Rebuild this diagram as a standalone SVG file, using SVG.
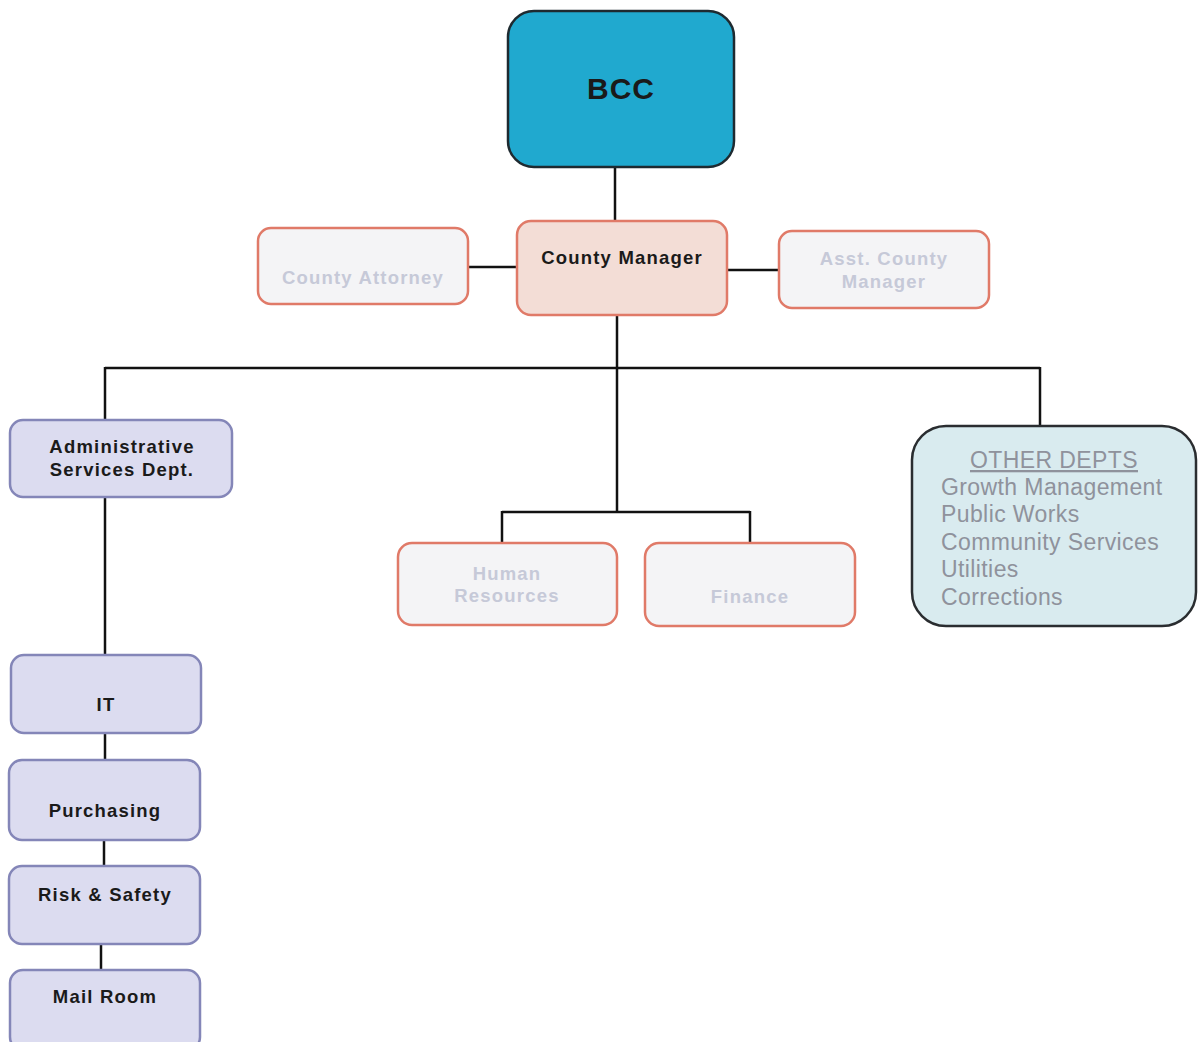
<svg xmlns="http://www.w3.org/2000/svg" width="1204" height="1042" viewBox="0 0 1204 1042">
<style>
.t{font-family:"Liberation Sans",Arial,sans-serif;font-weight:bold;font-size:18.5px;letter-spacing:1.2px;text-anchor:middle;fill:#1a1a1a}
.lt{fill:#c6c9d8}
.od{font-family:"Liberation Sans",Arial,sans-serif;font-size:23px;letter-spacing:0.4px;fill:#8f929c}
.red{fill:#f4f4f6;stroke:#e07a68;stroke-width:2.5}
.blue{fill:#dcdcf0;stroke:#8486b8;stroke-width:2.5}
.c line{stroke:#111;stroke-width:2.5}
</style>
<rect width="1204" height="1042" fill="#fff"/>
<g class="c" id="connectors">
<line x1="615" y1="167" x2="615" y2="221"/>
<line x1="468" y1="267" x2="517" y2="267"/>
<line x1="727" y1="270" x2="779" y2="270"/>
<line x1="617" y1="315" x2="617" y2="512"/>
<line x1="105" y1="368" x2="1040" y2="368"/>
<line x1="105" y1="367" x2="105" y2="420"/>
<line x1="1040" y1="367" x2="1040" y2="426"/>
<line x1="502" y1="512" x2="750" y2="512"/>
<line x1="502" y1="511" x2="502" y2="543"/>
<line x1="750" y1="511" x2="750" y2="543"/>
<line x1="105" y1="497" x2="105" y2="655"/>
<line x1="105" y1="733" x2="105" y2="760"/>
<line x1="104" y1="840" x2="104" y2="866"/>
<line x1="101" y1="944" x2="101" y2="970"/>
</g>
<g id="bcc">
<rect x="508" y="11" width="226" height="156" rx="26" fill="#20a9cf" stroke="#1e2a30" stroke-width="2.5"/>
<text x="621" y="99" class="t" style="font-size:30px;letter-spacing:1px">BCC</text>
</g>
<g id="county-manager">
<rect x="517" y="221" width="210" height="94" rx="14" fill="#f3ddd6" stroke="#e07a68" stroke-width="2.5"/>
<text x="622" y="264" class="t">County Manager</text>
</g>
<g id="county-attorney">
<rect x="258" y="228" width="210" height="76" rx="13" class="red"/>
<text x="363" y="284" class="t lt">County Attorney</text>
</g>
<g id="asst-county-manager">
<rect x="779" y="231" width="210" height="77" rx="13" class="red"/>
<text x="884" y="265" class="t lt">Asst. County</text>
<text x="884" y="288" class="t lt">Manager</text>
</g>
<g id="human-resources">
<rect x="398" y="543" width="219" height="82" rx="14" class="red"/>
<text x="507" y="580" class="t lt">Human</text>
<text x="507" y="602" class="t lt">Resources</text>
</g>
<g id="finance">
<rect x="645" y="543" width="210" height="83" rx="14" class="red"/>
<text x="750" y="603" class="t lt">Finance</text>
</g>
<g id="other-depts">
<rect x="912" y="426" width="284" height="200" rx="34" fill="#d9ebef" stroke="#2a2d30" stroke-width="2.5"/>
<text x="1054" y="468" class="od" text-anchor="middle" text-decoration="underline">OTHER DEPTS</text>
<text x="941" y="495" class="od">Growth Management</text>
<text x="941" y="522" class="od">Public Works</text>
<text x="941" y="550" class="od">Community Services</text>
<text x="941" y="577" class="od">Utilities</text>
<text x="941" y="605" class="od">Corrections</text>
</g>
<g id="admin-services">
<rect x="10" y="420" width="222" height="77" rx="13" class="blue"/>
<text x="122" y="453" class="t">Administrative</text>
<text x="122" y="476" class="t">Services Dept.</text>
</g>
<g id="it">
<rect x="11" y="655" width="190" height="78" rx="13" class="blue"/>
<text x="106" y="711" class="t">IT</text>
</g>
<g id="purchasing">
<rect x="9" y="760" width="191" height="80" rx="13" class="blue"/>
<text x="105" y="817" class="t">Purchasing</text>
</g>
<g id="risk-safety">
<rect x="9" y="866" width="191" height="78" rx="13" class="blue"/>
<text x="105" y="901" class="t">Risk &amp; Safety</text>
</g>
<g id="mail-room">
<rect x="10" y="970" width="190" height="80" rx="13" class="blue"/>
<text x="105" y="1003" class="t">Mail Room</text>
</g>
</svg>
